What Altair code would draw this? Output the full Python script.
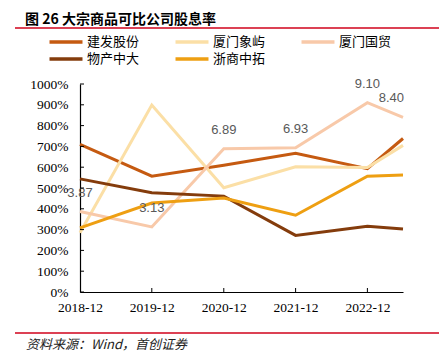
import altair as alt
import pandas as pd

# ---- data ----
periods = ["2018-12-31", "2019-12-31", "2020-12-31", "2021-12-31", "2022-12-31", "2023-06-30"]
series_names = ["建发股份", "厦门象屿", "厦门国贸", "物产中大", "浙商中拓"]
jianfa = [7.10, 5.57, 6.09, 6.67, 5.93, 7.38]
xiangyu = [2.85, 8.99, 5.01, 6.02, 5.98, 7.05]
guomao = [3.87, 3.13, 6.89, 6.93, 9.10, 8.40]
wuchan = [5.44, 4.77, 4.61, 2.72, 3.16, 3.03]
zheshang = [3.08, 4.28, 4.52, 3.69, 5.57, 5.62]
colors = ["#C55A11", "#FBDFA6", "#F8C9A9", "#843C0C", "#EE9F12"]
y_ticks = [0, 1, 2, 3, 4, 5, 6, 7, 8, 9, 10]
x_tick_dates = [(2018, 12, 31), (2019, 12, 31), (2020, 12, 31), (2021, 12, 31), (2022, 12, 31)]
labeled_series = "厦门国贸"

all_vals = [jianfa, xiangyu, guomao, wuchan, zheshang]
rows = []
for name, vals in zip(series_names, all_vals):
    for i, (p, v) in enumerate(zip(periods, vals)):
        rows.append({"date": p, "series": name, "value": v, "last": i == len(periods) - 1})
df = pd.DataFrame(rows)

W, H = 323, 208
cjk = "Noto Sans CJK SC"
serif = "Liberation Serif"

xscale = alt.Scale(type="utc", domain=[periods[0], periods[-1]])
yscale = alt.Scale(domain=[0, 10], nice=False)

x_axis = alt.Axis(
    values=[alt.DateTime(year=y, month=m, date=d, utc=True) for y, m, d in x_tick_dates],
    labelExpr="utcFormat(datum.value, '%Y-%m')", title=None, grid=False, tickSize=0,
    domainColor="#000000", domainWidth=1.2, labelFont=serif, labelFontSize=13.5,
    labelColor="#000000", labelPadding=8, labelOverlap=False, labelFlush=False,
)
y_axis = alt.Axis(
    values=y_ticks, format=".0%", title=None, grid=False, tickSize=0,
    domainColor="#000000", domainWidth=1.2, labelFont=serif, labelFontSize=13.5,
    labelColor="#000000", labelPadding=12, labelOverlap=False, labelFlush=False,
)


def X(field):
    return alt.X(field, type="temporal", scale=xscale, axis=x_axis)


def Y(field):
    return alt.Y(field, type="quantitative", scale=yscale, axis=y_axis)


color = alt.Color(
    "series:N",
    scale=alt.Scale(domain=series_names, range=colors),
    sort=series_names,
    legend=alt.Legend(
        title=None, orient="none", legendX=-24, legendY=-52, columns=3,
        direction="horizontal",
        symbolType="M-2,0H2", symbolSize=272, symbolStrokeWidth=3.5,
        labelFont=cjk, labelFontSize=13, labelColor="#000000", labelOffset=11,
        columnPadding=28, rowPadding=0, padding=0,
    ),
)

lines = alt.Chart(df).mark_line(strokeWidth=3).encode(
    x=X("date"), y=Y("value"), color=color,
)

lab_base = alt.Chart(df).transform_filter(alt.datum.series == labeled_series)
labels = lab_base.transform_filter("!datum.last").mark_text(
    dy=-19, font="Liberation Sans", fontSize=13, color="#595959"
).encode(x=X("date"), y=Y("value"), text=alt.Text("value:Q", format=".2f"))
label_last = lab_base.transform_filter("datum.last").mark_text(
    dy=-19, dx=1, align="right", font="Liberation Sans", fontSize=13, color="#595959"
).encode(x=X("date"), y=Y("value"), text=alt.Text("value:Q", format=".2f"))

ytick_df = pd.DataFrame({"v": y_ticks})
yticks = alt.Chart(ytick_df).mark_rule(color="#000000", strokeWidth=1).encode(
    y=Y("v"), x=alt.value(0), x2=alt.value(4)
)
xtick_df = pd.DataFrame({"d": periods[1:5]})
xticks = alt.Chart(xtick_df).mark_rule(color="#000000", strokeWidth=1).encode(
    x=X("d"), y=alt.value(H), y2=alt.value(H - 4)
)

deco_df = pd.DataFrame({"k": [0]})
title = alt.Chart(deco_df).mark_text(
    text="图 26 大宗商品可比公司股息率", align="left", baseline="middle",
    font=cjk, fontSize=14, fontWeight="bold", color="#000000"
).encode(x=alt.value(-55), y=alt.value(-64))
top_line = alt.Chart(deco_df).mark_rule(color="#D0021B", strokeWidth=1.5).encode(
    x=alt.value(-65), x2=alt.value(359), y=alt.value(-56)
)
bottom_line = alt.Chart(deco_df).mark_rule(color="#D0021B", strokeWidth=1.5).encode(
    x=alt.value(-65), x2=alt.value(359), y=alt.value(249)
)
source = alt.Chart(deco_df).mark_text(
    text="资料来源：Wind，首创证券", align="left", baseline="middle",
    font=cjk, fontSize=13, fontStyle="italic", color="#222222"
).encode(x=alt.value(-54), y=alt.value(261))

chart = alt.layer(
    lines, labels, label_last, yticks, xticks, title, top_line, bottom_line, source
).properties(
    width=W, height=H,
    autosize=alt.AutoSizeParams(type="none"),
    padding={"left": 72, "top": 76, "right": 36, "bottom": 62},
).configure_view(stroke=None)

chart.save("out.html", embed_options={"renderer": "svg", "actions": False})
